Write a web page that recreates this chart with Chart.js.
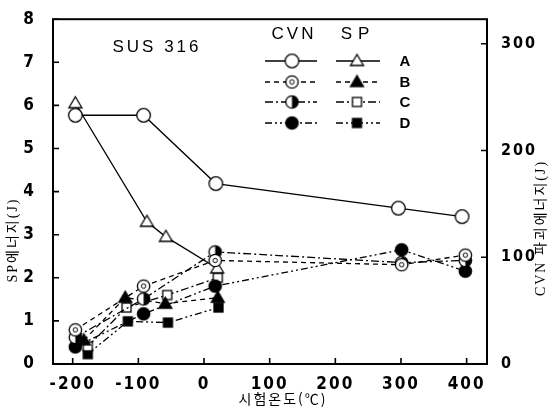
<!DOCTYPE html>
<html lang="ko">
<head>
    <meta charset="UTF-8">
    <title>SUS 316 SP / CVN energy</title>
    <script src="https://cdn.jsdelivr.net/npm/chart.js"></script>
    <style>
        html, body { margin: 0; padding: 0; background: #fff; }
        #wrap { width: 552px; height: 408px; }
    </style>
</head>
<body>
    <div id="wrap"><canvas id="chart"></canvas></div>

    <script>
        // CVN (right axis, J)
        const cvnTempsA = [-196, -92, 18, 296, 393];
        const cvnTemps = [-196, -92, 17, 301, 398];
        const cvnA = [233, 233, 169, 146, 138];
        const cvnB = [32, 73, 97, 93, 102];
        const cvnC = [25, 61, 105, 95, 97];
        const cvnD = [16, 47, 73, 107, 87];

        // SP (left axis, J)
        const spTempsA = [-196, -87, -58, 20];
        const spA = [6.05, 3.3, 2.95, 2.22];
        const spTempsB = [-183, -120, -59, 21];
        const spB = [0.55, 1.54, 1.4, 1.54];
        const spTempsC = [-177, -118, -56, 21];
        const spC = [0.41, 1.31, 1.6, 2.0];
        const spTempsD = [-177, -116, -55, 22];
        const spD = [0.23, 0.99, 0.96, 1.31];

        const legendRows = ['A', 'B', 'C', 'D'];

        const tickFont = { family: "'Liberation Sans Narrow', 'DejaVu Sans Condensed', sans-serif", size: 17, weight: 'bold' };

        // marker images
        function marker(kind) {
            const c = document.createElement('canvas');
            c.width = 17; c.height = 17;
            const g = c.getContext('2d');
            const m = 8.5;
            g.lineWidth = 1.3;
            g.strokeStyle = '#000';
            g.fillStyle = '#fff';
            if (kind === 'circle' || kind === 'dotCircle' || kind === 'halfCircle' || kind === 'blackCircle') {
                const r = kind === 'circle' ? 6.8 : 6.2;
                g.beginPath(); g.arc(m, m, r, 0, Math.PI * 2);
                g.fillStyle = kind === 'blackCircle' ? '#000' : '#fff';
                g.fill(); g.stroke();
                if (kind === 'dotCircle') {
                    g.beginPath(); g.arc(m, m, 2.2, 0, Math.PI * 2); g.lineWidth = 1; g.stroke();
                }
                if (kind === 'halfCircle') {
                    g.beginPath(); g.arc(m, m, r, -Math.PI / 2, Math.PI / 2); g.closePath();
                    g.fillStyle = '#000'; g.fill();
                }
            } else if (kind === 'triangle' || kind === 'blackTriangle') {
                g.beginPath();
                g.moveTo(m, m - 6.5); g.lineTo(m + 6.5, m + 4.5); g.lineTo(m - 6.5, m + 4.5); g.closePath();
                g.fillStyle = kind === 'blackTriangle' ? '#000' : '#fff';
                g.fill(); g.stroke();
            } else {
                g.fillStyle = kind === 'blackSquare' ? '#000' : '#fff';
                g.fillRect(m - 4.5, m - 4.5, 9, 9);
                g.strokeRect(m - 4.5, m - 4.5, 9, 9);
            }
            return c;
        }

        const dashes = { A: [], B: [5, 4], C: [8, 3, 2, 3], D: [7, 3, 2, 3, 2, 3] };
        const cvnMarks = { A: marker('circle'), B: marker('dotCircle'), C: marker('halfCircle'), D: marker('blackCircle') };
        const spMarks = { A: marker('triangle'), B: marker('blackTriangle'), C: marker('square'), D: marker('blackSquare') };

        const pts = (xs, ys) => xs.map((x, i) => ({ x: x, y: ys[i] }));

        function series(label, data, axis, dash, mark) {
            return {
                label: label,
                data: data,
                yAxisID: axis,
                showLine: true,
                borderColor: '#000',
                borderWidth: 1.3,
                borderDash: dash,
                pointStyle: mark,
                pointRadius: 7,
                pointHoverRadius: 7
            };
        }

        const datasets = [
            series('CVN A', pts(cvnTempsA, cvnA), 'yR', dashes.A, cvnMarks.A),
            series('CVN B', pts(cvnTemps, cvnB), 'yR', dashes.B, cvnMarks.B),
            series('CVN C', pts(cvnTemps, cvnC), 'yR', dashes.C, cvnMarks.C),
            series('CVN D', pts(cvnTemps, cvnD), 'yR', dashes.D, cvnMarks.D),
            series('SP A', pts(spTempsA, spA), 'y', dashes.A, spMarks.A),
            series('SP B', pts(spTempsB, spB), 'y', dashes.B, spMarks.B),
            series('SP C', pts(spTempsC, spC), 'y', dashes.C, spMarks.C),
            series('SP D', pts(spTempsD, spD), 'y', dashes.D, spMarks.D)
        ];

        // frame, inward ticks, titles and legend
        const frame = {
            id: 'frame',
            beforeLayout(chart) { chart.ctx.letterSpacing = '2px'; },
            beforeDraw(chart) { chart.ctx.letterSpacing = '2px'; },
            afterDraw(chart) {
                const { ctx, chartArea: a, scales } = chart;
                ctx.save();
                ctx.letterSpacing = '0px';
                ctx.strokeStyle = '#000';
                ctx.setLineDash([]);
                ctx.lineWidth = 2;
                ctx.strokeRect(a.left, a.top, a.right - a.left, a.bottom - a.top);

                ctx.lineWidth = 1.6;
                ctx.beginPath();
                scales.x.ticks.forEach(t => {
                    const px = scales.x.getPixelForValue(t.value);
                    ctx.moveTo(px, a.bottom); ctx.lineTo(px, a.bottom - 6);
                });
                scales.y.ticks.forEach(t => {
                    const py = scales.y.getPixelForValue(t.value);
                    ctx.moveTo(a.left, py); ctx.lineTo(a.left + 6, py);
                });
                scales.yR.ticks.forEach(t => {
                    const py = scales.yR.getPixelForValue(t.value);
                    ctx.moveTo(a.right, py); ctx.lineTo(a.right - 6, py);
                });
                ctx.stroke();

                ctx.fillStyle = '#000';
                ctx.textAlign = 'center';
                ctx.textBaseline = 'middle';

                // axis titles
                ctx.font = "14px 'Noto Sans CJK KR', sans-serif";
                ctx.letterSpacing = '2px';
                ctx.fillText('시험온도(℃)', 283, 399);

                ctx.save();
                ctx.translate(13, 240);
                ctx.rotate(-Math.PI / 2);
                ctx.font = "14px 'Liberation Serif', 'Noto Sans CJK KR', serif";
                ctx.fillText('SP에너지(J)', 0, 0);
                ctx.restore();

                ctx.save();
                ctx.translate(541, 228);
                ctx.rotate(-Math.PI / 2);
                ctx.font = "14px 'Liberation Serif', 'Noto Sans CJK KR', serif";
                ctx.fillText('CVN 파괴에너지(J)', 0, 0);
                ctx.restore();

                // material label
                ctx.font = "17px 'Liberation Sans', sans-serif";
                ctx.letterSpacing = '3px';
                ctx.fillText('SUS 316', 157, 47);

                // legend
                ctx.fillText('CVN', 294, 34);
                ctx.letterSpacing = '6px';
                ctx.fillText('SP', 358, 34);
                ctx.letterSpacing = '0px';
                const rowY = [61, 82, 102, 123];
                ctx.lineWidth = 1.3;
                legendRows.forEach((k, i) => {
                    const y = rowY[i];
                    ctx.setLineDash(dashes[k]);
                    ctx.beginPath();
                    ctx.moveTo(265, y); ctx.lineTo(317, y);
                    ctx.moveTo(336, y); ctx.lineTo(380, y);
                    ctx.stroke();
                    ctx.drawImage(cvnMarks[k], 292 - 8.5, y - 8.5);
                    ctx.drawImage(spMarks[k], 357 - 8.5, y - 8.5);
                    ctx.font = "bold 15px 'Liberation Sans', sans-serif";
                    ctx.fillText(k, 405, y + 1);
                });
                ctx.restore();
            }
        };

        const onlyWhole = (step) => (scale) => {
            scale.ticks = scale.ticks.filter(t => t.value % step === 0);
        };

        new Chart(document.getElementById('chart'), {
            type: 'scatter',
            data: { datasets: datasets },
            plugins: [frame],
            options: {
                responsive: true,
                maintainAspectRatio: false,
                animation: false,
                layout: { padding: { top: 15, left: 0, right: 0, bottom: 0 } },
                plugins: {
                    legend: { display: false },
                    tooltip: { enabled: false }
                },
                scales: {
                    x: {
                        type: 'linear',
                        min: -230,
                        max: 431,
                        grid: { display: false },
                        border: { display: false },
                        afterBuildTicks: onlyWhole(100),
                        afterFit: (s) => { s.height = 44; },
                        ticks: { stepSize: 100, includeBounds: false, color: '#000', font: tickFont, padding: 2, maxRotation: 0 }
                    },
                    y: {
                        position: 'left',
                        min: 0,
                        max: 8,
                        grid: { display: false },
                        border: { display: false },
                        afterFit: (s) => { s.width = 53; },
                        ticks: { stepSize: 1, color: '#000', font: tickFont, padding: 9 }
                    },
                    yR: {
                        position: 'right',
                        min: 0,
                        max: 323,
                        grid: { display: false },
                        border: { display: false },
                        afterBuildTicks: onlyWhole(100),
                        afterFit: (s) => { s.width = 65; },
                        ticks: { stepSize: 100, includeBounds: false, color: '#000', font: { family: tickFont.family, size: 16, weight: 'bold' }, padding: 6 }
                    }
                }
            }
        });
    </script>
</body>
</html>
